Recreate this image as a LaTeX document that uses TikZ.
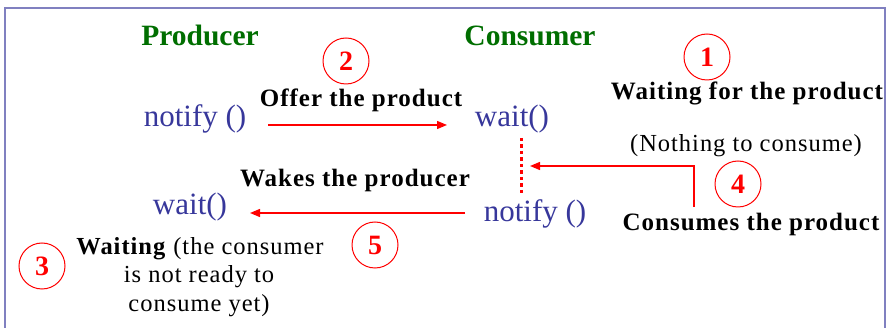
\documentclass[tikz,border=0pt]{standalone}
\usepackage{fontspec}
\setmainfont{Liberation Serif}
\usetikzlibrary{arrows.meta}
\definecolor{framec}{RGB}{128,128,192}
\definecolor{titlegreen}{RGB}{0,110,0}
\definecolor{callblue}{RGB}{55,55,155}
\definecolor{stepred}{RGB}{255,0,0}
\tikzset{
  titletext/.style={inner sep=0pt, anchor=base, text=titlegreen, font=\fontsize{29.5}{31}\selectfont\bfseries},
  calltext/.style={inner sep=0pt, anchor=base, text=callblue, font=\fontsize{31}{33}\selectfont},
  labeltext/.style={inner sep=0pt, anchor=base, text=black, font=\fontsize{25}{27}\selectfont\bfseries\addfontfeature{LetterSpace=4}},
  plaintext/.style={inner sep=0pt, anchor=base, text=black, font=\fontsize{24.5}{26}\selectfont\addfontfeature{LetterSpace=4}},
  stepcircle/.style={circle, draw=stepred, line width=1pt, minimum size=46pt, inner sep=0pt, text=stepred, font=\fontsize{28}{29}\selectfont\bfseries},
  redarrow/.style={draw=stepred, line width=1.3pt, -{Triangle[length=10pt,width=8pt]}},
  reddots/.style={draw=stepred, line width=3pt, dash pattern=on 3.5pt off 3pt}
}
\begin{document}
\begin{tikzpicture}[x=1pt, y=-1pt]
\useasboundingbox (0,0) rectangle (889,328);
\draw[framec, line width=2pt] (5,330) -- (5,8) -- (885,8) -- (885,330);

% titles
\node[titletext] (prod) at (200,46) {Producer};
\node[titletext] (cons) at (530,46) {Consumer};

% calls
\node[calltext] (notifyP) at (195,127) {notify ()};
\node[calltext] (waitC) at (512,127) {wait()};
\node[calltext] (waitP) at (190,215) {wait()};
\node[calltext] (notifyC) at (535,222) {notify ()};

% labels
\node[labeltext] (offer) at (361,107) {Offer the product};
\node[labeltext] (waitfor) at (747,100) {Waiting for the product};
\node[plaintext] (nothing) at (746,152) {(Nothing to consume)};
\node[labeltext] (wakes) at (355,187) {Wakes the producer};
\node[labeltext] (consumes) at (751,231) {Consumes the product};
\node[plaintext] (w1) at (200,255) {\textbf{Waiting} (the consumer};
\node[plaintext] (w2) at (199,283) {is not ready to};
\node[plaintext] (w3) at (199,312) {consume yet)};

% step circles
\node[stepcircle] (s1) at (707,57) {1};
\node[stepcircle] (s2) at (346,61) {2};
\node[stepcircle] (s3) at (42,266) {3};
\node[stepcircle] (s4) at (738,184) {4};
\node[stepcircle] (s5) at (375,245) {5};

% connectors
\coordinate (a2s) at (268,125);
\coordinate (a2e) at (447,125);
\draw[redarrow] (a2s) -- (a2e);

\coordinate (d1) at (521,138);
\coordinate (d2) at (521,196);
\draw[reddots] (d1) -- (d2);

\coordinate (a4s) at (694,207);
\coordinate (a4c) at (694,166);
\coordinate (a4e) at (530,166);
\draw[redarrow] (a4s) -- (a4c) -- (a4e);

\coordinate (a5s) at (465,213);
\coordinate (a5e) at (250,213);
\draw[redarrow] (a5s) -- (a5e);
\end{tikzpicture}
\end{document}
